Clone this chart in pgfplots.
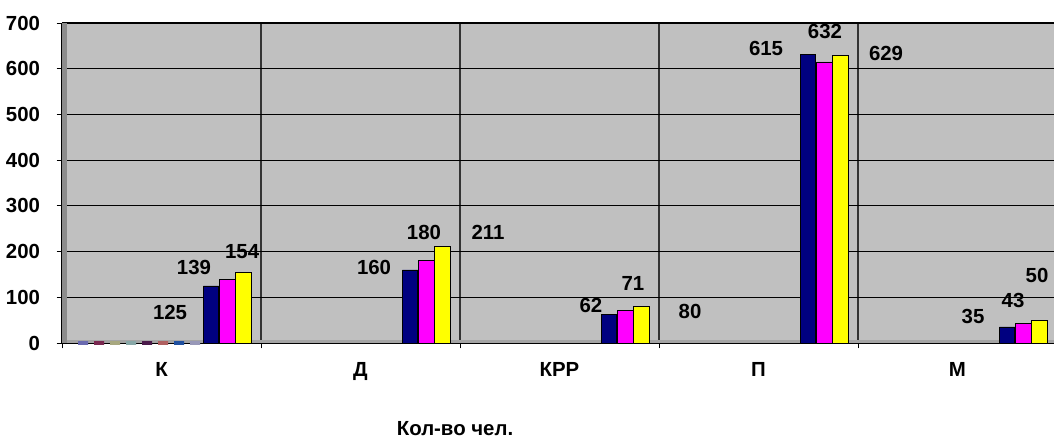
\documentclass[border=0pt]{standalone}
\usepackage{fontspec}
\setmainfont{Liberation Sans}
\usepackage{pgfplots}
\usepackage{pgfplotstable}
\pgfplotsset{compat=1.18}
\definecolor{bgray}{HTML}{C0C0C0}
\definecolor{floorg}{HTML}{A4A4A4}
\definecolor{sA}{HTML}{000080}
\definecolor{sB}{HTML}{FF00FF}
\definecolor{sC}{HTML}{FFFF00}
\definecolor{z1}{HTML}{6A6AB0}
\definecolor{z2}{HTML}{7A2850}
\definecolor{z3}{HTML}{A8A880}
\definecolor{z4}{HTML}{88A8A8}
\definecolor{z5}{HTML}{4A1A4A}
\definecolor{z6}{HTML}{B06060}
\definecolor{z7}{HTML}{2050A0}
\definecolor{z8}{HTML}{9898B8}
\pgfplotstableread{
cat s1 s2 s3 s4 s5 s6 s7 s8 s9 s10 s11
0   0  0  0  0  0  0  0  0  125 139 154
1   nan nan nan nan nan nan nan nan 160 180 211
2   nan nan nan nan nan nan nan nan 62 71 80
3   nan nan nan nan nan nan nan nan 632 615 629
4   nan nan nan nan nan nan nan nan 35 43 50
}\data
\newcommand{\lf}{\fontsize{15.3}{17}\selectfont\bfseries}
\begin{document}
\begin{tikzpicture}
\begin{axis}[
  scale only axis, width=744pt, height=240pt,
  xmin=-0.5, xmax=4.485, ymin=0, ymax=700,
  axis x line*=bottom, axis y line*=left,
  axis line style={black, line width=0.8pt},
  axis background/.style={fill=bgray},
  ybar, bar width=0.078,
  ytick={0,100,...,700},
  xtick={-0.5,0.5,1.5,2.5,3.5},
  xticklabels={},
  extra x ticks={0,1,2,3,4},
  extra x tick labels={К,Д,КРР,П,М},
  extra x tick style={major tick length=0pt, grid=none,
     xticklabel style={yshift=-11pt}},
  tick align=outside, major tick length=4pt,
  tick style={black, line width=0.6pt},
  xmajorgrids, ymajorgrids,
  every axis x grid/.append style={black!80, line width=1.2pt},
  every axis y grid/.append style={black, line width=0.9pt},
  tick label style={font=\lf},
  /pgf/number format/assume math mode=true,
  yticklabel style={xshift=-9pt},
  clip=false,
]
\fill[floorg] (axis cs:-0.5,0) rectangle (axis cs:4.485,7);
\fill[black!45] (axis cs:-0.5,0) rectangle (axis cs:-0.475,700);
\addplot[bar shift=0pt, draw=z1, line width=3pt, bar width=0.05] table[x expr=\thisrow{cat}-0.394, y=s1]{\data};
\addplot[bar shift=0pt, draw=z2, line width=3pt, bar width=0.05] table[x expr=\thisrow{cat}-0.3136, y=s2]{\data};
\addplot[bar shift=0pt, draw=z3, line width=3pt, bar width=0.05] table[x expr=\thisrow{cat}-0.2332, y=s3]{\data};
\addplot[bar shift=0pt, draw=z4, line width=3pt, bar width=0.05] table[x expr=\thisrow{cat}-0.1528, y=s4]{\data};
\addplot[bar shift=0pt, draw=z5, line width=3pt, bar width=0.05] table[x expr=\thisrow{cat}-0.0724, y=s5]{\data};
\addplot[bar shift=0pt, draw=z6, line width=3pt, bar width=0.05] table[x expr=\thisrow{cat}+0.008, y=s6]{\data};
\addplot[bar shift=0pt, draw=z7, line width=3pt, bar width=0.05] table[x expr=\thisrow{cat}+0.0884, y=s7]{\data};
\addplot[bar shift=0pt, draw=z8, line width=3pt, bar width=0.05] table[x expr=\thisrow{cat}+0.1688, y=s8]{\data};
\addplot[bar shift=0pt, fill=sA, draw=black, line width=0.5pt] table[x expr=\thisrow{cat}+0.249, y=s9]{\data};
\addplot[bar shift=0pt, fill=sB, draw=black, line width=0.5pt] table[x expr=\thisrow{cat}+0.330, y=s10]{\data};
\addplot[bar shift=0pt, fill=sC, draw=black, line width=0.5pt] table[x expr=\thisrow{cat}+0.410, y=s11]{\data};
% data labels
\node[font=\lf] at (axis cs:0.043,66) {125};
\node[font=\lf] at (axis cs:0.163,166) {139};
\node[font=\lf] at (axis cs:0.405,199) {154};
\node[font=\lf] at (axis cs:1.068,165) {160};
\node[font=\lf] at (axis cs:1.319,242) {180};
\node[font=\lf] at (axis cs:1.641,242) {211};
\node[font=\lf] at (axis cs:2.158,81) {62};
\node[font=\lf] at (axis cs:2.369,130) {71};
\node[font=\lf] at (axis cs:2.656,70) {80};
\node[font=\lf] at (axis cs:3.038,645) {615};
\node[font=\lf] at (axis cs:3.334,681) {632};
\node[font=\lf] at (axis cs:3.641,634) {629};
\node[font=\lf] at (axis cs:4.078,59) {35};
\node[font=\lf] at (axis cs:4.279,92) {43};
\node[font=\lf] at (axis cs:4.400,148) {50};
\node[font=\lf] at (axis cs:1.475,-187) {Кол-во чел.};
\coordinate (LL) at (rel axis cs:0,0);
\coordinate (UR) at (rel axis cs:1,1);
\end{axis}
\pgfresetboundingbox
\path[use as bounding box] ([xshift=-46.5pt,yshift=-74.25pt]LL) rectangle ([yshift=17.25pt]UR);
\end{tikzpicture}
\end{document}
